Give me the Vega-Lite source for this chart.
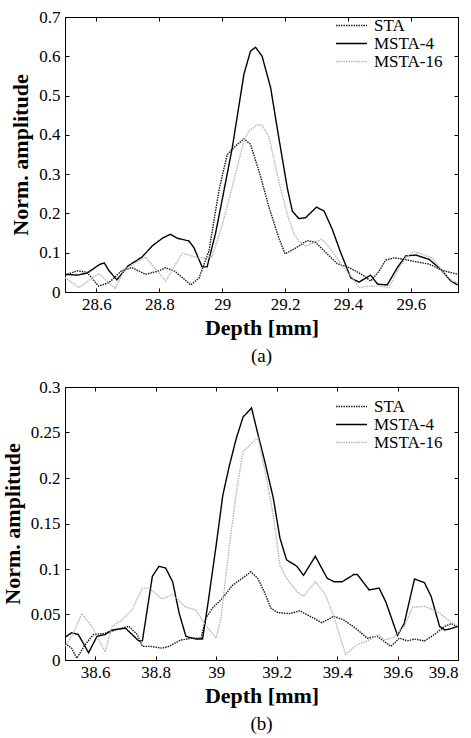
{
  "$schema": "https://vega.github.io/schema/vega-lite/v6.json",
  "background": "white",
  "padding": {"left": 0, "top": 7, "right": 5, "bottom": 5},
  "spacing": 10,
  "config": {
    "view": {"stroke": "black", "strokeWidth": 1},
    "font": "Times New Roman",
    "axis": {
      "grid": false,
      "labelFont": "Times New Roman",
      "labelFontSize": 17,
      "labelColor": "black",
      "titleFont": "Times New Roman",
      "titleFontSize": 22,
      "titleFontWeight": "bold",
      "titleColor": "black",
      "tickColor": "black",
      "domainColor": "black",
      "tickSize": -4
    },
    "axisX": {"labelPadding": 8, "titlePadding": 5},
    "axisY": {"labelPadding": 9, "titlePadding": 6},
    "legend": {
      "orient": "none",
      "legendX": 270,
      "title": null,
      "labelFont": "Times New Roman",
      "labelFontSize": 17,
      "labelColor": "black",
      "symbolType": "stroke",
      "symbolSize": 961,
      "symbolStrokeWidth": 1.5,
      "clipHeight": 17,
      "rowPadding": 0,
      "padding": 0,
      "labelOffset": 6
    }
  },
  "resolve": {"legend": {"color": "independent", "strokeDash": "independent"}},
  "datasets": {
    "top": [
      {"d": 28.50, "v": 0.043, "s": "STA"},
      {"d": 28.54, "v": 0.054, "s": "STA"},
      {"d": 28.57, "v": 0.050, "s": "STA"},
      {"d": 28.607, "v": 0.015, "s": "STA"},
      {"d": 28.64, "v": 0.024, "s": "STA"},
      {"d": 28.68, "v": 0.054, "s": "STA"},
      {"d": 28.713, "v": 0.062, "s": "STA"},
      {"d": 28.756, "v": 0.045, "s": "STA"},
      {"d": 28.80, "v": 0.054, "s": "STA"},
      {"d": 28.82, "v": 0.062, "s": "STA"},
      {"d": 28.851, "v": 0.052, "s": "STA"},
      {"d": 28.90, "v": 0.018, "s": "STA"},
      {"d": 28.926, "v": 0.035, "s": "STA"},
      {"d": 28.958, "v": 0.105, "s": "STA"},
      {"d": 28.99, "v": 0.26, "s": "STA"},
      {"d": 29.016, "v": 0.35, "s": "STA"},
      {"d": 29.04, "v": 0.37, "s": "STA"},
      {"d": 29.069, "v": 0.39, "s": "STA"},
      {"d": 29.09, "v": 0.376, "s": "STA"},
      {"d": 29.12, "v": 0.30, "s": "STA"},
      {"d": 29.149, "v": 0.215, "s": "STA"},
      {"d": 29.18, "v": 0.138, "s": "STA"},
      {"d": 29.20, "v": 0.097, "s": "STA"},
      {"d": 29.23, "v": 0.11, "s": "STA"},
      {"d": 29.27, "v": 0.131, "s": "STA"},
      {"d": 29.297, "v": 0.126, "s": "STA"},
      {"d": 29.33, "v": 0.10, "s": "STA"},
      {"d": 29.366, "v": 0.072, "s": "STA"},
      {"d": 29.404, "v": 0.062, "s": "STA"},
      {"d": 29.425, "v": 0.053, "s": "STA"},
      {"d": 29.451, "v": 0.041, "s": "STA"},
      {"d": 29.472, "v": 0.028, "s": "STA"},
      {"d": 29.499, "v": 0.053, "s": "STA"},
      {"d": 29.52, "v": 0.081, "s": "STA"},
      {"d": 29.547, "v": 0.087, "s": "STA"},
      {"d": 29.58, "v": 0.083, "s": "STA"},
      {"d": 29.616, "v": 0.077, "s": "STA"},
      {"d": 29.658, "v": 0.071, "s": "STA"},
      {"d": 29.70, "v": 0.055, "s": "STA"},
      {"d": 29.75, "v": 0.045, "s": "STA"},

      {"d": 28.50, "v": 0.045, "s": "MSTA-4"},
      {"d": 28.54, "v": 0.043, "s": "MSTA-4"},
      {"d": 28.57, "v": 0.048, "s": "MSTA-4"},
      {"d": 28.61, "v": 0.070, "s": "MSTA-4"},
      {"d": 28.625, "v": 0.074, "s": "MSTA-4"},
      {"d": 28.64, "v": 0.054, "s": "MSTA-4"},
      {"d": 28.665, "v": 0.031, "s": "MSTA-4"},
      {"d": 28.70, "v": 0.066, "s": "MSTA-4"},
      {"d": 28.745, "v": 0.089, "s": "MSTA-4"},
      {"d": 28.777, "v": 0.117, "s": "MSTA-4"},
      {"d": 28.81, "v": 0.137, "s": "MSTA-4"},
      {"d": 28.835, "v": 0.147, "s": "MSTA-4"},
      {"d": 28.857, "v": 0.137, "s": "MSTA-4"},
      {"d": 28.894, "v": 0.13, "s": "MSTA-4"},
      {"d": 28.91, "v": 0.113, "s": "MSTA-4"},
      {"d": 28.936, "v": 0.064, "s": "MSTA-4"},
      {"d": 28.952, "v": 0.064, "s": "MSTA-4"},
      {"d": 28.979, "v": 0.15, "s": "MSTA-4"},
      {"d": 29.00, "v": 0.235, "s": "MSTA-4"},
      {"d": 29.032, "v": 0.367, "s": "MSTA-4"},
      {"d": 29.069, "v": 0.554, "s": "MSTA-4"},
      {"d": 29.09, "v": 0.613, "s": "MSTA-4"},
      {"d": 29.106, "v": 0.623, "s": "MSTA-4"},
      {"d": 29.127, "v": 0.60, "s": "MSTA-4"},
      {"d": 29.154, "v": 0.52, "s": "MSTA-4"},
      {"d": 29.18, "v": 0.393, "s": "MSTA-4"},
      {"d": 29.207, "v": 0.265, "s": "MSTA-4"},
      {"d": 29.223, "v": 0.206, "s": "MSTA-4"},
      {"d": 29.244, "v": 0.187, "s": "MSTA-4"},
      {"d": 29.265, "v": 0.189, "s": "MSTA-4"},
      {"d": 29.30, "v": 0.216, "s": "MSTA-4"},
      {"d": 29.324, "v": 0.206, "s": "MSTA-4"},
      {"d": 29.35, "v": 0.16, "s": "MSTA-4"},
      {"d": 29.377, "v": 0.10, "s": "MSTA-4"},
      {"d": 29.409, "v": 0.036, "s": "MSTA-4"},
      {"d": 29.435, "v": 0.025, "s": "MSTA-4"},
      {"d": 29.472, "v": 0.043, "s": "MSTA-4"},
      {"d": 29.494, "v": 0.02, "s": "MSTA-4"},
      {"d": 29.525, "v": 0.018, "s": "MSTA-4"},
      {"d": 29.557, "v": 0.062, "s": "MSTA-4"},
      {"d": 29.584, "v": 0.092, "s": "MSTA-4"},
      {"d": 29.616, "v": 0.094, "s": "MSTA-4"},
      {"d": 29.658, "v": 0.083, "s": "MSTA-4"},
      {"d": 29.695, "v": 0.058, "s": "MSTA-4"},
      {"d": 29.727, "v": 0.028, "s": "MSTA-4"},
      {"d": 29.75, "v": 0.018, "s": "MSTA-4"},

      {"d": 28.50, "v": 0.037, "s": "MSTA-16"},
      {"d": 28.544, "v": 0.011, "s": "MSTA-16"},
      {"d": 28.607, "v": 0.047, "s": "MSTA-16"},
      {"d": 28.66, "v": 0.009, "s": "MSTA-16"},
      {"d": 28.69, "v": 0.058, "s": "MSTA-16"},
      {"d": 28.756, "v": 0.089, "s": "MSTA-16"},
      {"d": 28.82, "v": 0.028, "s": "MSTA-16"},
      {"d": 28.873, "v": 0.099, "s": "MSTA-16"},
      {"d": 28.926, "v": 0.086, "s": "MSTA-16"},
      {"d": 28.968, "v": 0.09, "s": "MSTA-16"},
      {"d": 29.00, "v": 0.17, "s": "MSTA-16"},
      {"d": 29.02, "v": 0.23, "s": "MSTA-16"},
      {"d": 29.042, "v": 0.30, "s": "MSTA-16"},
      {"d": 29.069, "v": 0.384, "s": "MSTA-16"},
      {"d": 29.085, "v": 0.41, "s": "MSTA-16"},
      {"d": 29.111, "v": 0.425, "s": "MSTA-16"},
      {"d": 29.127, "v": 0.425, "s": "MSTA-16"},
      {"d": 29.149, "v": 0.395, "s": "MSTA-16"},
      {"d": 29.17, "v": 0.316, "s": "MSTA-16"},
      {"d": 29.19, "v": 0.25, "s": "MSTA-16"},
      {"d": 29.21, "v": 0.19, "s": "MSTA-16"},
      {"d": 29.23, "v": 0.145, "s": "MSTA-16"},
      {"d": 29.244, "v": 0.13, "s": "MSTA-16"},
      {"d": 29.265, "v": 0.117, "s": "MSTA-16"},
      {"d": 29.292, "v": 0.126, "s": "MSTA-16"},
      {"d": 29.318, "v": 0.134, "s": "MSTA-16"},
      {"d": 29.35, "v": 0.104, "s": "MSTA-16"},
      {"d": 29.382, "v": 0.066, "s": "MSTA-16"},
      {"d": 29.414, "v": 0.036, "s": "MSTA-16"},
      {"d": 29.435, "v": 0.011, "s": "MSTA-16"},
      {"d": 29.467, "v": 0.015, "s": "MSTA-16"},
      {"d": 29.499, "v": 0.015, "s": "MSTA-16"},
      {"d": 29.531, "v": 0.011, "s": "MSTA-16"},
      {"d": 29.557, "v": 0.053, "s": "MSTA-16"},
      {"d": 29.584, "v": 0.089, "s": "MSTA-16"},
      {"d": 29.61, "v": 0.103, "s": "MSTA-16"},
      {"d": 29.637, "v": 0.096, "s": "MSTA-16"},
      {"d": 29.669, "v": 0.086, "s": "MSTA-16"},
      {"d": 29.70, "v": 0.053, "s": "MSTA-16"},
      {"d": 29.732, "v": 0.028, "s": "MSTA-16"},
      {"d": 29.75, "v": 0.024, "s": "MSTA-16"}
    ],
    "bottom": [
      {"d": 38.50, "v": 0.018, "s": "STA"},
      {"d": 38.522, "v": 0.013, "s": "STA"},
      {"d": 38.539, "v": 0.002, "s": "STA"},
      {"d": 38.567, "v": 0.017, "s": "STA"},
      {"d": 38.594, "v": 0.028, "s": "STA"},
      {"d": 38.628, "v": 0.029, "s": "STA"},
      {"d": 38.667, "v": 0.033, "s": "STA"},
      {"d": 38.711, "v": 0.037, "s": "STA"},
      {"d": 38.739, "v": 0.028, "s": "STA"},
      {"d": 38.756, "v": 0.015, "s": "STA"},
      {"d": 38.783, "v": 0.015, "s": "STA"},
      {"d": 38.822, "v": 0.013, "s": "STA"},
      {"d": 38.844, "v": 0.015, "s": "STA"},
      {"d": 38.883, "v": 0.022, "s": "STA"},
      {"d": 38.922, "v": 0.024, "s": "STA"},
      {"d": 38.95, "v": 0.024, "s": "STA"},
      {"d": 38.966, "v": 0.046, "s": "STA"},
      {"d": 38.988, "v": 0.057, "s": "STA"},
      {"d": 39.021, "v": 0.068, "s": "STA"},
      {"d": 39.054, "v": 0.082, "s": "STA"},
      {"d": 39.087, "v": 0.09, "s": "STA"},
      {"d": 39.115, "v": 0.097, "s": "STA"},
      {"d": 39.137, "v": 0.09, "s": "STA"},
      {"d": 39.159, "v": 0.075, "s": "STA"},
      {"d": 39.181, "v": 0.057, "s": "STA"},
      {"d": 39.204, "v": 0.052, "s": "STA"},
      {"d": 39.243, "v": 0.051, "s": "STA"},
      {"d": 39.276, "v": 0.054, "s": "STA"},
      {"d": 39.311, "v": 0.048, "s": "STA"},
      {"d": 39.35, "v": 0.041, "s": "STA"},
      {"d": 39.389, "v": 0.048, "s": "STA"},
      {"d": 39.422, "v": 0.044, "s": "STA"},
      {"d": 39.461, "v": 0.035, "s": "STA"},
      {"d": 39.50, "v": 0.024, "s": "STA"},
      {"d": 39.533, "v": 0.026, "s": "STA"},
      {"d": 39.578, "v": 0.015, "s": "STA"},
      {"d": 39.606, "v": 0.024, "s": "STA"},
      {"d": 39.633, "v": 0.021, "s": "STA"},
      {"d": 39.656, "v": 0.023, "s": "STA"},
      {"d": 39.689, "v": 0.021, "s": "STA"},
      {"d": 39.722, "v": 0.028, "s": "STA"},
      {"d": 39.756, "v": 0.037, "s": "STA"},
      {"d": 39.778, "v": 0.04, "s": "STA"},
      {"d": 39.80, "v": 0.036, "s": "STA"},

      {"d": 38.50, "v": 0.025, "s": "MSTA-4"},
      {"d": 38.522, "v": 0.030, "s": "MSTA-4"},
      {"d": 38.544, "v": 0.028, "s": "MSTA-4"},
      {"d": 38.578, "v": 0.008, "s": "MSTA-4"},
      {"d": 38.606, "v": 0.026, "s": "MSTA-4"},
      {"d": 38.633, "v": 0.028, "s": "MSTA-4"},
      {"d": 38.656, "v": 0.033, "s": "MSTA-4"},
      {"d": 38.70, "v": 0.035, "s": "MSTA-4"},
      {"d": 38.744, "v": 0.021, "s": "MSTA-4"},
      {"d": 38.756, "v": 0.021, "s": "MSTA-4"},
      {"d": 38.789, "v": 0.092, "s": "MSTA-4"},
      {"d": 38.811, "v": 0.103, "s": "MSTA-4"},
      {"d": 38.833, "v": 0.101, "s": "MSTA-4"},
      {"d": 38.856, "v": 0.086, "s": "MSTA-4"},
      {"d": 38.878, "v": 0.051, "s": "MSTA-4"},
      {"d": 38.90, "v": 0.026, "s": "MSTA-4"},
      {"d": 38.933, "v": 0.023, "s": "MSTA-4"},
      {"d": 38.955, "v": 0.023, "s": "MSTA-4"},
      {"d": 38.972, "v": 0.06, "s": "MSTA-4"},
      {"d": 39.00, "v": 0.126, "s": "MSTA-4"},
      {"d": 39.022, "v": 0.181, "s": "MSTA-4"},
      {"d": 39.044, "v": 0.214, "s": "MSTA-4"},
      {"d": 39.067, "v": 0.244, "s": "MSTA-4"},
      {"d": 39.089, "v": 0.267, "s": "MSTA-4"},
      {"d": 39.117, "v": 0.277, "s": "MSTA-4"},
      {"d": 39.139, "v": 0.247, "s": "MSTA-4"},
      {"d": 39.161, "v": 0.218, "s": "MSTA-4"},
      {"d": 39.189, "v": 0.178, "s": "MSTA-4"},
      {"d": 39.211, "v": 0.134, "s": "MSTA-4"},
      {"d": 39.233, "v": 0.110, "s": "MSTA-4"},
      {"d": 39.267, "v": 0.103, "s": "MSTA-4"},
      {"d": 39.289, "v": 0.093, "s": "MSTA-4"},
      {"d": 39.328, "v": 0.114, "s": "MSTA-4"},
      {"d": 39.367, "v": 0.090, "s": "MSTA-4"},
      {"d": 39.389, "v": 0.086, "s": "MSTA-4"},
      {"d": 39.417, "v": 0.086, "s": "MSTA-4"},
      {"d": 39.456, "v": 0.094, "s": "MSTA-4"},
      {"d": 39.467, "v": 0.094, "s": "MSTA-4"},
      {"d": 39.506, "v": 0.077, "s": "MSTA-4"},
      {"d": 39.539, "v": 0.079, "s": "MSTA-4"},
      {"d": 39.561, "v": 0.064, "s": "MSTA-4"},
      {"d": 39.60, "v": 0.027, "s": "MSTA-4"},
      {"d": 39.622, "v": 0.04, "s": "MSTA-4"},
      {"d": 39.656, "v": 0.089, "s": "MSTA-4"},
      {"d": 39.689, "v": 0.085, "s": "MSTA-4"},
      {"d": 39.711, "v": 0.07, "s": "MSTA-4"},
      {"d": 39.739, "v": 0.037, "s": "MSTA-4"},
      {"d": 39.756, "v": 0.033, "s": "MSTA-4"},
      {"d": 39.772, "v": 0.034, "s": "MSTA-4"},
      {"d": 39.80, "v": 0.037, "s": "MSTA-4"},

      {"d": 38.50, "v": 0.015, "s": "MSTA-16"},
      {"d": 38.522, "v": 0.026, "s": "MSTA-16"},
      {"d": 38.556, "v": 0.051, "s": "MSTA-16"},
      {"d": 38.589, "v": 0.037, "s": "MSTA-16"},
      {"d": 38.633, "v": 0.009, "s": "MSTA-16"},
      {"d": 38.656, "v": 0.037, "s": "MSTA-16"},
      {"d": 38.689, "v": 0.044, "s": "MSTA-16"},
      {"d": 38.722, "v": 0.055, "s": "MSTA-16"},
      {"d": 38.756, "v": 0.079, "s": "MSTA-16"},
      {"d": 38.778, "v": 0.079, "s": "MSTA-16"},
      {"d": 38.822, "v": 0.067, "s": "MSTA-16"},
      {"d": 38.856, "v": 0.072, "s": "MSTA-16"},
      {"d": 38.90, "v": 0.058, "s": "MSTA-16"},
      {"d": 38.933, "v": 0.055, "s": "MSTA-16"},
      {"d": 38.961, "v": 0.04, "s": "MSTA-16"},
      {"d": 39.00, "v": 0.024, "s": "MSTA-16"},
      {"d": 39.016, "v": 0.046, "s": "MSTA-16"},
      {"d": 39.044, "v": 0.126, "s": "MSTA-16"},
      {"d": 39.067, "v": 0.185, "s": "MSTA-16"},
      {"d": 39.089, "v": 0.229, "s": "MSTA-16"},
      {"d": 39.117, "v": 0.238, "s": "MSTA-16"},
      {"d": 39.139, "v": 0.244, "s": "MSTA-16"},
      {"d": 39.161, "v": 0.209, "s": "MSTA-16"},
      {"d": 39.189, "v": 0.159, "s": "MSTA-16"},
      {"d": 39.211, "v": 0.104, "s": "MSTA-16"},
      {"d": 39.233, "v": 0.09, "s": "MSTA-16"},
      {"d": 39.267, "v": 0.075, "s": "MSTA-16"},
      {"d": 39.289, "v": 0.07, "s": "MSTA-16"},
      {"d": 39.328, "v": 0.086, "s": "MSTA-16"},
      {"d": 39.361, "v": 0.072, "s": "MSTA-16"},
      {"d": 39.389, "v": 0.048, "s": "MSTA-16"},
      {"d": 39.428, "v": 0.006, "s": "MSTA-16"},
      {"d": 39.467, "v": 0.017, "s": "MSTA-16"},
      {"d": 39.50, "v": 0.021, "s": "MSTA-16"},
      {"d": 39.539, "v": 0.028, "s": "MSTA-16"},
      {"d": 39.556, "v": 0.022, "s": "MSTA-16"},
      {"d": 39.589, "v": 0.025, "s": "MSTA-16"},
      {"d": 39.622, "v": 0.037, "s": "MSTA-16"},
      {"d": 39.65, "v": 0.058, "s": "MSTA-16"},
      {"d": 39.689, "v": 0.059, "s": "MSTA-16"},
      {"d": 39.733, "v": 0.053, "s": "MSTA-16"},
      {"d": 39.767, "v": 0.044, "s": "MSTA-16"},
      {"d": 39.80, "v": 0.037, "s": "MSTA-16"}
    ]
  },
  "vconcat": [
    {
      "width": 393,
      "height": 275,
      "data": {"name": "top"},
      "title": {"text": "(a)", "orient": "bottom", "anchor": "middle", "frame": "group", "font": "Times New Roman", "fontSize": 19, "fontWeight": "normal", "color": "black", "offset": 9},
      "resolve": {"axis": {"x": "independent", "y": "independent"}},
      "layer": [
        {
          "mark": {"type": "line", "strokeWidth": 1.4, "clip": true},
          "encoding": {
            "x": {"field": "d", "type": "quantitative", "scale": {"domain": [28.5, 29.75], "nice": false, "zero": false},
              "axis": {"title": "Depth [mm]", "values": [28.6, 28.8, 29, 29.2, 29.4, 29.6], "format": "~g"}},
            "y": {"field": "v", "type": "quantitative", "scale": {"domain": [0, 0.7], "nice": false},
              "axis": {"title": "Norm. amplitude", "values": [0, 0.1, 0.2, 0.3, 0.4, 0.5, 0.6, 0.7], "format": "~g"}},
            "color": {"field": "s", "type": "nominal", "scale": {"domain": ["STA", "MSTA-4", "MSTA-16"], "range": ["#1a1a1a", "#000000", "#b5b5b5"]}, "legend": {"title": null, "legendY": 0}},
            "strokeDash": {"field": "s", "type": "nominal", "scale": {"domain": ["STA", "MSTA-4", "MSTA-16"], "range": [[1.5, 1], [1, 0], [1.5, 1]]}, "legend": {"title": null, "legendY": 0}}
          }
        },
        {
          "mark": {"type": "line", "opacity": 0},
          "encoding": {
            "x": {"field": "d", "type": "quantitative", "axis": {"orient": "top", "labels": false, "title": null, "values": [28.6, 28.8, 29, 29.2, 29.4, 29.6]}},
            "y": {"field": "v", "type": "quantitative", "axis": {"orient": "right", "labels": false, "title": null, "values": [0, 0.1, 0.2, 0.3, 0.4, 0.5, 0.6, 0.7]}},
            "detail": {"field": "s"}
          }
        }
      ]
    },
    {
      "width": 393,
      "height": 273,
      "data": {"name": "bottom"},
      "title": {"text": "(b)", "orient": "bottom", "anchor": "middle", "frame": "group", "font": "Times New Roman", "fontSize": 19, "fontWeight": "normal", "color": "black", "offset": 9},
      "resolve": {"axis": {"x": "independent", "y": "independent"}},
      "layer": [
        {
          "mark": {"type": "line", "strokeWidth": 1.4, "clip": true},
          "encoding": {
            "x": {"field": "d", "type": "quantitative", "scale": {"domain": [38.5, 39.8], "nice": false, "zero": false},
              "axis": {"title": "Depth [mm]", "values": [38.6, 38.8, 39, 39.2, 39.4, 39.6, 39.8], "format": "~g"}},
            "y": {"field": "v", "type": "quantitative", "scale": {"domain": [0, 0.3], "nice": false},
              "axis": {"title": "Norm. amplitude", "values": [0, 0.05, 0.1, 0.15, 0.2, 0.25, 0.3], "format": "~g"}},
            "color": {"field": "s", "type": "nominal", "scale": {"domain": ["STA", "MSTA-4", "MSTA-16"], "range": ["#1a1a1a", "#000000", "#b5b5b5"]}, "legend": {"title": null, "legendY": 11}},
            "strokeDash": {"field": "s", "type": "nominal", "scale": {"domain": ["STA", "MSTA-4", "MSTA-16"], "range": [[1.5, 1], [1, 0], [1.5, 1]]}, "legend": {"title": null, "legendY": 11}}
          }
        },
        {
          "mark": {"type": "line", "opacity": 0},
          "encoding": {
            "x": {"field": "d", "type": "quantitative", "axis": {"orient": "top", "labels": false, "title": null, "values": [38.6, 38.8, 39, 39.2, 39.4, 39.6, 39.8]}},
            "y": {"field": "v", "type": "quantitative", "axis": {"orient": "right", "labels": false, "title": null, "values": [0, 0.05, 0.1, 0.15, 0.2, 0.25, 0.3]}},
            "detail": {"field": "s"}
          }
        }
      ]
    }
  ]
}
